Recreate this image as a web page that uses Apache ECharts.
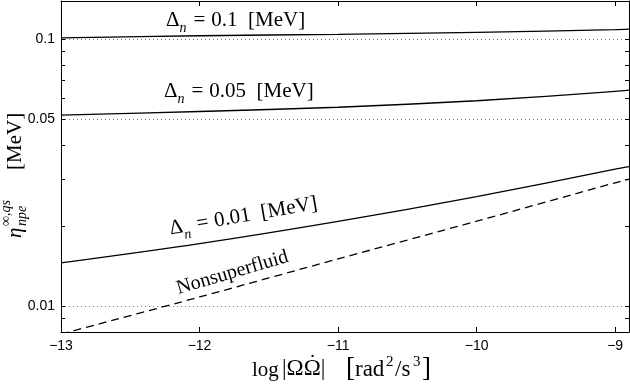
<!DOCTYPE html>
<html>
<head>
<meta charset="utf-8">
<title>eta npe</title>
<script src="https://cdn.jsdelivr.net/npm/echarts@6/dist/echarts.min.js"></script>
</head>
<body style="margin:0;background:#fff">
<div id="chart" style="width:630px;height:384px;"></div>
<script>
// x = log|Omega Omega-dot|, y = eta (log scale)
var xData = [-13, -12, -11, -10, -9, -8.9];
var delta01 = [0.1011, 0.1030, 0.1043, 0.1060, 0.1085, 0.1090];
var delta005 = [0.0519, 0.0536, 0.0556, 0.0588, 0.0637, 0.0644];
var delta001 = [0.01451, 0.01714, 0.02077, 0.0257, 0.0326, 0.0333];
var nonSF = [0.00786, 0.01082, 0.01503, 0.0208, 0.02897, 0.02988];

var xTicks = [-13, -12, -11, -10, -9];
var yLabels = [0.01, 0.05, 0.1];
var yMinor = [0.009, 0.01, 0.02, 0.03, 0.04, 0.05, 0.06, 0.07, 0.08, 0.09, 0.1];

var chart = echarts.init(document.getElementById('chart'));
var serif = 'Liberation Serif';
var sans = 'Liberation Sans';

function pairs(ys) {
    return xData.map(function (x, i) { return [x, ys[i]]; });
}
function lineSeries(ys, dashed) {
    return {
        type: 'line', data: pairs(ys), smooth: 0.3, showSymbol: false, symbol: 'none',
        clip: true, silent: true,
        lineStyle: { color: '#000', width: 1.3, type: dashed ? [8, 5] : 'solid' }
    };
}
var axisLine = { show: true, lineStyle: { color: '#000', width: 1 } };

var deltaRich = {
    a: { fontFamily: serif, fontSize: 21, color: '#000', verticalAlign: 'top', lineHeight: 25 },
    n: { fontFamily: serif, fontSize: 14, fontStyle: 'italic', color: '#000', verticalAlign: 'top', lineHeight: 14, padding: [12, 1, 0, 0] },
    g: { fontFamily: serif, fontSize: 21, color: '#000', verticalAlign: 'top', lineHeight: 25, padding: [0, 6, 0, 6] }
};
function deltaLabel(txt, x, y, rot) {
    return {
        type: 'text', x: x, y: y, rotation: rot || 0,
        style: { text: '{a|\u0394}{n|n}{g|=}{a|' + txt + '  [MeV]}', rich: deltaRich, textAlign: 'left', textVerticalAlign: 'middle' }
    };
}
function txt(s, x, y, size, italic) {
    return { type: 'text', x: x, y: y, style: { text: s, fontFamily: serif, fontSize: size, fontStyle: italic ? 'italic' : 'normal', fill: '#000', textVerticalAlign: 'middle' } };
}

var option = {
    backgroundColor: '#fff',
    animation: false,
    grid: { left: 61, right: 1, top: 1, bottom: 52 },
    xAxis: [{
        type: 'value', min: -13, max: -8.9, position: 'bottom',
        axisLine: axisLine,
        axisTick: { show: true, inside: true, length: 5, customValues: xTicks, lineStyle: { color: '#000' } },
        axisLabel: {
            customValues: xTicks, margin: 7, color: '#000', fontFamily: sans, fontSize: 14,
            formatter: function (v) { return v < 0 ? '\u2212' + Math.abs(v) : String(v); }
        },
        splitLine: { show: false }
    }, {
        type: 'value', min: -13, max: -8.9, position: 'top',
        axisLine: axisLine,
        axisTick: { show: true, inside: true, length: 5, customValues: xTicks, lineStyle: { color: '#000' } },
        axisLabel: { show: false },
        splitLine: { show: false }
    }],
    yAxis: [{
        type: 'log', min: 0.008, max: 0.139, position: 'left',
        axisLine: axisLine,
        axisTick: { show: true, inside: true, length: 4, customValues: yLabels, lineStyle: { color: '#000' } },
        axisLabel: {
            customValues: yLabels, margin: 6, color: '#000', fontFamily: sans, fontSize: 14,
            formatter: function (v) { return String(parseFloat(Number(v).toPrecision(6))); }
        },
        splitLine: { show: true, lineStyle: { color: '#777', width: 1, type: [1, 3] } }
    }, {
        type: 'log', min: 0.008, max: 0.139, position: 'left', offset: 0,
        axisLine: { show: false },
        axisTick: { show: true, inside: true, length: 4, customValues: yMinor, lineStyle: { color: '#000' } },
        axisLabel: { show: false },
        splitLine: { show: false }
    }, {
        type: 'log', min: 0.008, max: 0.139, position: 'right',
        axisLine: axisLine,
        axisTick: { show: true, inside: true, length: 4, customValues: yMinor, lineStyle: { color: '#000' } },
        axisLabel: { show: false },
        splitLine: { show: false }
    }],
    series: [
        lineSeries(delta01),
        lineSeries(delta005),
        lineSeries(delta001),
        lineSeries(nonSF, true)
    ],
    graphic: [
        deltaLabel('0.1', 166, 22),
        deltaLabel('0.05', 164, 93),
        deltaLabel('0.01', 170, 231, 0.171),
        {
            type: 'text', x: 177, y: 289, rotation: 0.285,
            style: { text: 'Nonsuperfluid', fontFamily: serif, fontSize: 20, fill: '#000', textAlign: 'left', textVerticalAlign: 'middle' }
        },
        // x axis title
        {
            type: 'group', x: 252, y: 370,
            children: [
                txt('log', 0, 0, 21),
                txt('|\u03A9\u03A9|', 30, -1, 23),
                txt('\u02D9', 57, -7, 21),
                txt('[', 94, -1, 27),
                txt('rad', 103, 0, 23),
                txt('2', 134, -8, 15),
                txt('/s', 143, 0, 23),
                txt('3', 161, -8, 15),
                txt(']', 170, -1, 27)
            ]
        },
        // y axis title, rotated to read upwards
        {
            type: 'group', x: 15, y: 238, rotation: Math.PI / 2,
            children: [
                txt('\u03B7', 0, 0, 21, true),
                txt('\u221E,qs', 12, -9, 14, true),
                txt('npe', 12, 7, 14, true),
                txt('[MeV]', 68, 0, 21)
            ]
        }
    ]
};
chart.setOption(option);
</script>
</body>
</html>
